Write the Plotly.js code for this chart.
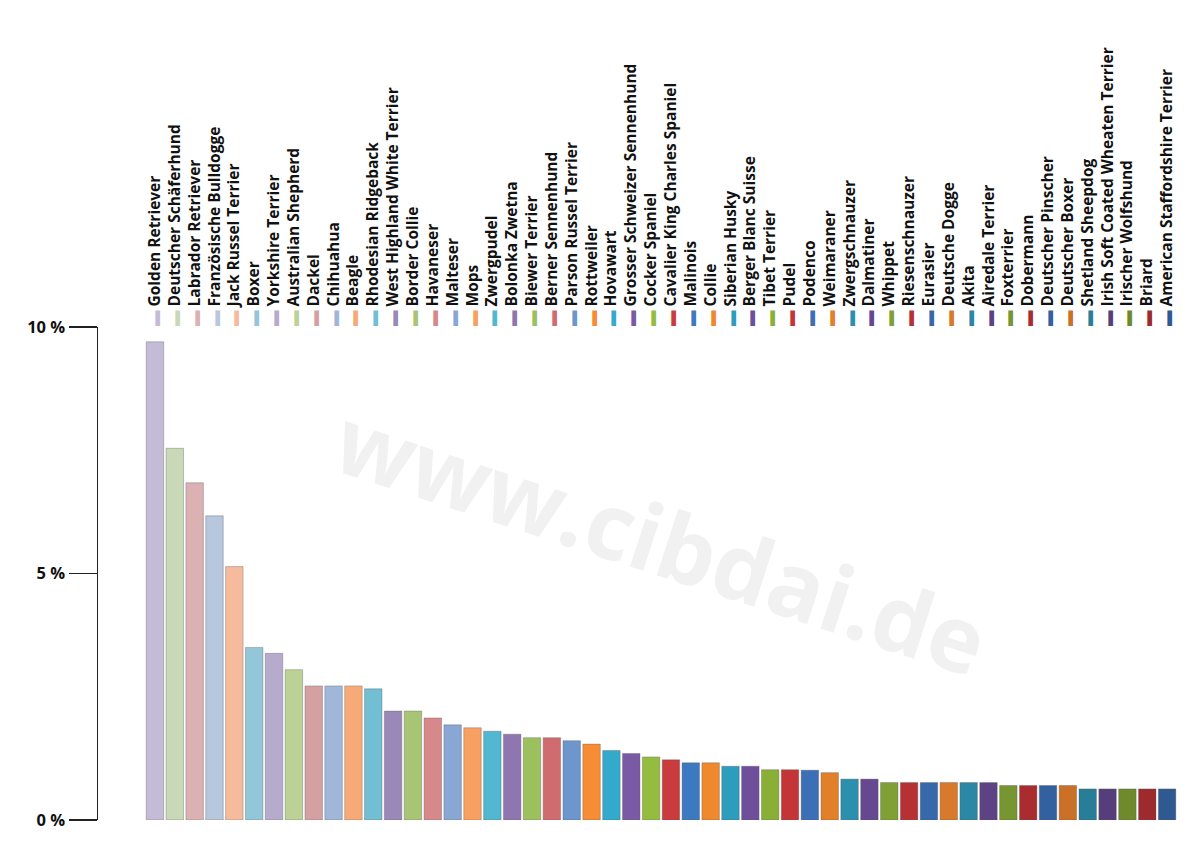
<!DOCTYPE html>
<html>
<head>
<meta charset="utf-8">
<script src="https://cdn.plot.ly/plotly-3.0.1.min.js"></script>
<style>
  html, body { margin: 0; padding: 0; background: #ffffff; }
  #chart { width: 1200px; height: 854px; }
</style>
</head>
<body>
<div id="chart"></div>
<script>
// ---- data ----
const breeds = [
  "Golden Retriever", "Deutscher Schäferhund", "Labrador Retriever", "Französische Bulldogge",
  "Jack Russel Terrier", "Boxer", "Yorkshire Terrier", "Australian Shepherd", "Dackel",
  "Chihuahua", "Beagle", "Rhodesian Ridgeback", "West Highland White Terrier", "Border Collie",
  "Havaneser", "Malteser", "Mops", "Zwergpudel", "Bolonka Zwetna", "Biewer Terrier",
  "Berner Sennenhund", "Parson Russel Terrier", "Rottweiler", "Hovawart",
  "Grosser Schweizer Sennenhund", "Cocker Spaniel", "Cavalier King Charles Spaniel", "Malinois",
  "Collie", "Siberian Husky", "Berger Blanc Suisse", "Tibet Terrier", "Pudel", "Podenco",
  "Weimaraner", "Zwergschnauzer", "Dalmatiner", "Whippet", "Riesenschnauzer", "Eurasier",
  "Deutsche Dogge", "Akita", "Airedale Terrier", "Foxterrier", "Dobermann",
  "Deutscher Pinscher", "Deutscher Boxer", "Shetland Sheepdog",
  "Irish Soft Coated Wheaten Terrier", "Irischer Wolfshund", "Briard",
  "American Staffordshire Terrier"
];
const shares = [
  9.70, 7.54, 6.84, 6.17, 5.14, 3.50, 3.38, 3.05, 2.72, 2.72,
  2.72, 2.66, 2.21, 2.21, 2.07, 1.93, 1.87, 1.80, 1.74, 1.67,
  1.67, 1.61, 1.54, 1.41, 1.35, 1.28, 1.22, 1.16, 1.16, 1.09,
  1.09, 1.02, 1.02, 1.01, 0.96, 0.83, 0.83, 0.76, 0.76, 0.76,
  0.76, 0.76, 0.76, 0.70, 0.70, 0.70, 0.70, 0.63, 0.63, 0.63,
  0.63, 0.63
];
const yTickVals = [0, 5, 10];
const yTickText = ["0 %", "5 %", "10 %"];

// ---- styles ----
const barColors = [
  "#c4bcd6", "#c9d8b6", "#dbb1b3", "#b7c7de", "#f5bb9c", "#93c6d8",
  "#b6aacd", "#bcd195", "#d5a0a2", "#a0b7da", "#f7aa78", "#72bed3",
  "#9a88b8", "#a8c576", "#d6888b", "#89a7d4", "#f8a062", "#52b7d1",
  "#8f76b1", "#9dc05e", "#d06c6f", "#6d96cd", "#f68c33", "#33aacc",
  "#7b5aa5", "#94bd3f", "#c93b3c", "#3d79c1", "#f0882e", "#2d9dbe",
  "#6f4e9b", "#8aaf37", "#c33537", "#3b70b6", "#e27f29", "#2b90ae",
  "#65488f", "#80a035", "#b63133", "#3768a9", "#d8792b", "#2b87a4",
  "#5d4386", "#779530", "#a92d2f", "#33609e", "#ca7027", "#287e99",
  "#563e7d", "#6e8a2d", "#9d2a2c", "#2f5990"
];
const labelFont = "'Open Sans', 'Noto Sans', sans-serif";

const tickLabels = breeds.map((b, i) =>
  '<span style="color:' + barColors[i] + '">▬</span> ' + b);

const trace = {
  type: "bar",
  x: breeds,
  y: shares,
  marker: {
    color: barColors,
    line: { color: "rgba(90,90,90,0.35)", width: 1 }
  },
  hoverinfo: "x+y"
};

const layout = {
  width: 1200,
  height: 854,
  margin: { l: 98, r: 20, t: 327, b: 34 },
  paper_bgcolor: "#ffffff",
  plot_bgcolor: "#ffffff",
  showlegend: false,
  bargap: 0.12,
  font: { family: labelFont, color: "#111111" },
  xaxis: {
    type: "category",
    side: "top",
    range: [-2.87, 51.65],
    tickmode: "array",
    tickvals: breeds,
    ticktext: tickLabels,
    tickangle: -90,
    ticks: "",
    showline: false,
    showgrid: false,
    zeroline: false,
    tickfont: { family: labelFont, size: 15.5, color: "#111111", weight: "bold" },
    fixedrange: true
  },
  yaxis: {
    range: [0, 10],
    tickmode: "array",
    tickvals: yTickVals,
    ticktext: yTickText,
    ticks: "outside",
    ticklen: 28,
    tickwidth: 1.5,
    tickcolor: "#222222",
    showline: true,
    linecolor: "#222222",
    linewidth: 1.5,
    showgrid: false,
    zeroline: false,
    tickfont: { family: labelFont, size: 16.5, color: "#111111", weight: "bold" },
    fixedrange: true
  },
  annotations: [{
    text: "www.cibdai.de",
    xref: "paper", yref: "paper",
    x: 0.521, y: 0.568,
    xanchor: "center", yanchor: "middle",
    showarrow: false,
    textangle: 18,
    font: { family: labelFont, size: 92, color: "#f1f1f1", weight: "bold" }
  }]
};

Plotly.newPlot("chart", [trace], layout, { displayModeBar: false, staticPlot: true });
</script>
</body>
</html>
